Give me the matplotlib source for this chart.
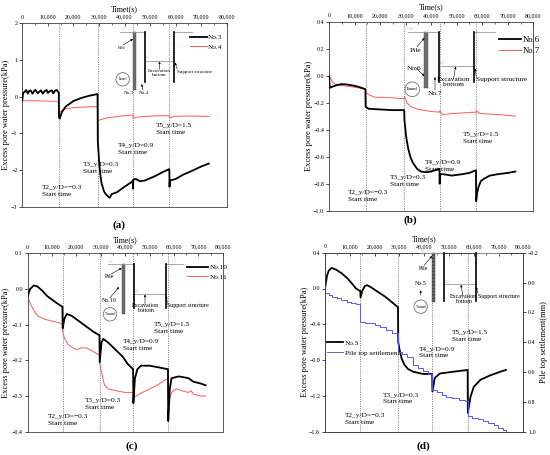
"""
Excess pore water pressure at the monitoring points, panels (a)-(d)
"""
import matplotlib
matplotlib.use('Agg')
import matplotlib.pyplot as plt
from matplotlib.ticker import FuncFormatter, MultipleLocator
from matplotlib.patches import Circle, Rectangle

plt.rcParams['font.family'] = ['Liberation Serif', 'DejaVu Serif']

W, H = 550, 455

# start times of the excavation stages (s)
stage_t = [14300, 29500, 43300, 57600]
stage_txt = ['T2_y/D=\u22120.3\nStart time', 'T3_y/D=0.3\nStart time',
             'T4_y/D=0.9\nStart time', 'T5_y/D=1.5\nStart time']

# (a) No.3 / No.4
t_no3 = [0, 300, 800, 1500, 2200, 2600, 3200, 4000, 4700, 5200, 6000, 6800, 7300, 8000,
         8800, 9500, 10000, 10800, 11500, 12100, 12800, 13500, 14300, 14350, 14600, 15500,
         17000, 20000, 23000, 26000, 29450, 29550, 30000, 30500, 31000, 32000, 33000, 34200,
         35000, 37000, 40000, 43250, 43330, 43450, 44500, 46000, 48000, 52000, 55000, 57550,
         57630, 57750, 60000, 63000, 67000, 70000, 73000]
p_no3 = [-0.1, 0.1, 0.12, 0.18, 0.08, 0.15, 0.17, 0.08, 0.16, 0.18, 0.09, 0.14, 0.17, 0.08,
         0.15, 0.18, 0.1, 0.15, 0.17, 0.09, 0.16, 0.18, 0.1, -0.55, -0.6, -0.42,
         -0.27, -0.12, -0.04, 0.02, 0.07, -1.2, -1.7, -2.1, -2.35, -2.58, -2.68, -2.75,
         -2.65, -2.6, -2.45, -2.3, -2.5, -2.25, -2.24, -2.3, -2.28, -2.16, -2.05, -1.97,
         -2.45, -2.28, -2.24, -2.12, -2.0, -1.9, -1.82]
t_no4 = [0, 2000, 8000, 14250, 14350, 15000, 17000, 20000, 25000, 29450, 29550, 30500, 33000,
         36000, 40000, 43250, 43350, 44500, 48000, 53000, 57550, 57650, 59000, 63000, 68000, 73000]
p_no4 = [-0.12, -0.11, -0.12, -0.13, -0.45, -0.4, -0.33, -0.3, -0.28, -0.27, -0.66, -0.63, -0.58,
         -0.55, -0.52, -0.5, -0.6, -0.56, -0.54, -0.52, -0.52, -0.58, -0.54, -0.53, -0.53, -0.54]

# (b) No.6 / No.7
t_no6 = [0, 300, 1500, 3000, 5000, 7000, 10000, 12000, 14250, 14350, 15500, 20000, 25000,
         29450, 29550, 30200, 31000, 32000, 33000, 34500, 36000, 38000, 40000, 43250, 43330,
         43500, 45000, 48000, 52000, 55000, 57550, 57630, 58000, 58600, 59500, 61000, 63000,
         66000, 70000, 73000]
p_no6 = [0.0, -0.09, -0.08, -0.07, -0.062, -0.065, -0.075, -0.085, -0.1, -0.23, -0.245, -0.25,
         -0.255, -0.255, -0.33, -0.45, -0.54, -0.61, -0.65, -0.69, -0.71, -0.715, -0.71, -0.69,
         -0.8, -0.73, -0.73, -0.74, -0.73, -0.72, -0.7, -0.93, -0.87, -0.82, -0.78, -0.76,
         -0.74, -0.73, -0.72, -0.71]
t_no7 = [0, 1500, 3000, 6000, 10000, 14250, 14350, 15500, 18000, 22000, 26000, 28500, 29500,
         29600, 30500, 32000, 35000, 40000, 43250, 43350, 44500, 48000, 53000, 57550, 57650,
         59000, 63000, 68000, 73000]
p_no7 = [0.0, -0.05, -0.07, -0.075, -0.085, -0.1, -0.12, -0.14, -0.16, -0.16, -0.165, -0.17,
         -0.17, -0.155, -0.2, -0.23, -0.25, -0.265, -0.27, -0.26, -0.29, -0.28, -0.275, -0.27,
         -0.26, -0.28, -0.285, -0.29, -0.3]

# (c) No.10 / No.11
t_no10 = [0, 1000, 2500, 4000, 6000, 8000, 10000, 12000, 14250, 14350, 15000, 16000, 18000,
          21000, 24000, 27000, 29450, 29550, 30300, 31000, 33000, 36000, 39000, 41000, 43250,
          43350, 44000, 45000, 46500, 50000, 54000, 57550, 57650, 58300, 59000, 62000, 66000,
          68000, 71000, 73000]
p_no10 = [-0.02, 0.0, 0.01, 0.007, -0.005, -0.02, -0.03, -0.04, -0.05, -0.11, -0.085, -0.07,
          -0.075, -0.09, -0.105, -0.12, -0.13, -0.205, -0.15, -0.14, -0.15, -0.17, -0.19, -0.21,
          -0.225, -0.32, -0.25, -0.225, -0.215, -0.215, -0.22, -0.225, -0.37, -0.28, -0.25,
          -0.245, -0.25, -0.26, -0.265, -0.27]
t_no11 = [0, 1000, 2500, 4000, 7000, 10000, 13000, 14250, 14350, 15200, 16500, 18500, 20000,
          22000, 24000, 26000, 28000, 29450, 29550, 30500, 31500, 33000, 36000, 40000, 43250,
          43350, 44500, 47000, 50000, 53000, 57550, 57650, 58500, 59500, 61000, 63000, 66000,
          67000, 68000, 71000, 73000]
p_no11 = [-0.02, -0.04, -0.06, -0.075, -0.085, -0.09, -0.095, -0.1, -0.12, -0.14, -0.155,
          -0.165, -0.17, -0.165, -0.165, -0.172, -0.18, -0.185, -0.21, -0.24, -0.27, -0.28,
          -0.285, -0.29, -0.29, -0.305, -0.3, -0.29, -0.28, -0.27, -0.25, -0.34, -0.3, -0.285,
          -0.28, -0.285, -0.29, -0.285, -0.295, -0.3, -0.3]

# (d) No.5 and pile top settlement
t_no5 = [0, 800, 1500, 2700, 4500, 6700, 9000, 10750, 12500, 14250, 14350, 15000, 16100, 17000,
         18500, 20200, 22000, 24200, 26000, 27600, 29450, 29550, 30200, 30900, 32000, 33500,
         35600, 39600, 43250, 43330, 44300, 46300, 51700, 57550, 57630, 58700, 60000, 62700,
         66700, 70700, 73000]
p_no5 = [0.0, 0.14, 0.2, 0.23, 0.21, 0.17, 0.115, 0.06, 0.0, -0.03, -0.1, -0.03, 0.03, 0.037,
         0.015, -0.017, -0.05, -0.09, -0.13, -0.167, -0.21, -0.6, -0.7, -0.78, -0.85, -0.9,
         -0.93, -0.955, -0.955, -1.15, -1.0, -0.95, -0.93, -0.91, -1.39, -1.21, -1.1, -1.02,
         -0.97, -0.93, -0.91]
t_pile = [0, 1500, 3000, 4700, 6500, 8700, 10500, 12500, 14300, 16000, 18200, 20000, 22200,
          24500, 27000, 29500, 31000, 33000, 35600, 37500, 39600, 41500, 43300, 45000, 47200,
          49000, 51200, 53900, 56500, 57600, 59500, 61800, 63800, 65900, 68000, 69900, 71900,
          73000]
s_pile = [0.073, 0.085, 0.095, 0.107, 0.118, 0.129, 0.138, 0.146, 0.263, 0.268, 0.274, 0.285,
          0.30, 0.318, 0.34, 0.463, 0.48, 0.496, 0.551, 0.57, 0.596, 0.61, 0.718, 0.735, 0.751,
          0.765, 0.774, 0.785, 0.796, 0.896, 0.905, 0.918, 0.93, 0.94, 0.955, 0.973, 0.99, 0.996]

RED = '#ff5a5a'
BLUE = '#5a5ae6'

fig = plt.figure(figsize=(5.5, 4.55), dpi=100)


def px_axes(l, t, r, b):
    return fig.add_axes([l / W, 1 - b / H, (r - l) / W, (b - t) / H])


def fmt(dec):
    return FuncFormatter(lambda v, p: f'{v:.{dec}f}'.replace('-', '\u2212'))


def style(ax, ylim, yticks, dec, xlabel, ylab_x):
    ax.set_xlim(0, 80000)
    ax.set_ylim(*ylim)
    ax.set_yticks(yticks)
    ax.yaxis.set_major_formatter(fmt(dec))
    ax.xaxis.tick_top()
    ax.set_xticks(range(0, 80001, 10000))
    ax.xaxis.set_minor_locator(MultipleLocator(5000))
    ax.xaxis.set_major_formatter(FuncFormatter(lambda v, p: f'{int(v):,}'))
    ax.tick_params(axis='x', which='both', direction='in', labelsize=4.3, pad=2.5)
    ax.tick_params(axis='x', which='major', length=2.5, width=0.5)
    ax.tick_params(axis='x', which='minor', length=1.5, width=0.4)
    ax.tick_params(axis='y', direction='out', labelsize=4.3, length=2, width=0.5, pad=1.5)
    ax.set_xlabel(xlabel, fontsize=5.8)
    ax.xaxis.set_label_position('top')
    ax.xaxis.set_label_coords(0.5, 1.065)
    ax.set_ylabel('Excess pore water pressure(kPa)', fontsize=6.0)
    ax.yaxis.set_label_coords(ylab_x, 0.5)
    for sp in ax.spines.values():
        sp.set_linewidth(0.6)
        sp.set_color('#404040')
    for t in stage_t:
        ax.axvline(t, color='#8c8c8c', ls=(0, (1.2, 1.2)), lw=0.7, zorder=1)


def stage_labels(ax, pos, fs=5.3):
    for txt, (x, y) in zip(stage_txt, pos):
        ax.text(x, y, txt, fontsize=fs, va='top', ha='left', linespacing=1.45)


# ---- (a)
ax = px_axes(22.3, 23, 226.7, 207)
style(ax, (-3, 2), [-3, -2, -1, 0, 1, 2], 0, 'Timet(s)', -0.058)
ax.plot(t_no3, p_no3, color='black', lw=1.3, label='No.3', zorder=3)
ax.plot(t_no4, p_no4, color=RED, lw=0.7, label='No.4', zorder=2)
stage_labels(ax, [(7800, -2.4), (23600, -1.79), (37600, -1.27), (52200, -0.73)])
ax.legend(loc='upper left', bbox_to_anchor=(0.82, 0.94), frameon=False, fontsize=5.2,
          handlelength=2.3, handletextpad=0.2, labelspacing=0.5, borderpad=0, borderaxespad=0)

# ---- (b)
ax = px_axes(329, 21.7, 533.3, 210.7)
style(ax, (-1.0, 0.4), [-1.0, -0.8, -0.6, -0.4, -0.2, 0.0, 0.2, 0.4], 1, 'Time(s)', -0.08)
ax.plot(t_no6, p_no6, color='black', lw=1.3, label='No.6', zorder=3)
ax.plot(t_no7, p_no7, color=RED, lw=0.7, label='No.7', zorder=2)
stage_labels(ax, [(7300, -0.85), (23900, -0.736), (37600, -0.624), (52350, -0.415)])
ax.legend(loc='upper left', bbox_to_anchor=(0.83, 0.925), frameon=False, fontsize=6.2,
          handlelength=2.6, handletextpad=0.2, labelspacing=0.4, borderpad=0, borderaxespad=0)

# ---- (c)
ax = px_axes(27.7, 253.3, 222.7, 431.7)
style(ax, (-0.4, 0.1), [-0.4, -0.3, -0.2, -0.1, 0.0, 0.1], 1, 'Time(s)', -0.092)
ax.plot(t_no10, p_no10, color='black', lw=1.3, label='No.10', zorder=3)
ax.plot(t_no11, p_no11, color=RED, lw=0.7, label='No.11', zorder=2)
stage_labels(ax, [(8450, -0.35), (23500, -0.306), (39000, -0.14), (51900, -0.093)])
ax.legend(loc='upper left', bbox_to_anchor=(0.815, 0.94), frameon=False, fontsize=5.2,
          handlelength=3.0, handletextpad=0.2, labelspacing=0.5, borderpad=0, borderaxespad=0)

# ---- (d)
ax = px_axes(325, 252.7, 523.3, 431.7)
style(ax, (-1.6, 0.4), [-1.6, -1.2, -0.8, -0.4, 0.0, 0.4], 1, 'Time(s)', -0.08)
l1, = ax.plot(t_no5, p_no5, color='black', lw=1.3, label='No.5', zorder=3)
ax2 = ax.twinx()
l2, = ax2.step(t_pile, s_pile, where='post', color=BLUE, lw=0.7, label='Pile top settlement')
ax2.set_ylim(1.0, -0.2)
ax2.set_yticks([-0.2, 0.0, 0.2, 0.4, 0.6, 0.8, 1.0])
ax2.yaxis.set_major_formatter(fmt(1))
ax2.tick_params(axis='y', direction='out', labelsize=4.3, length=2, width=0.5, pad=1.5)
ax2.set_ylabel('Pile top settlement(mm)', fontsize=6.0)
ax2.yaxis.set_label_coords(1.083, 0.5)
for sp in ax2.spines.values():
    sp.set_linewidth(0.6)
    sp.set_color('#404040')
stage_labels(ax, [(8070, -1.394), (23500, -1.164), (37900, -0.65), (51100, -0.464)])
ax.legend([l1, l2], ['No.5', 'Pile top settlement'], loc='upper left', bbox_to_anchor=(0.008, 0.513),
          frameon=False, fontsize=5.2, handlelength=2.3, handletextpad=0.2, labelspacing=0.5,
          borderpad=0, borderaxespad=0)

# panel captions
for lab, x, y in [('(a)', 119, 225), ('(b)', 410, 220), ('(c)', 132, 445.7), ('(d)', 423, 445.7)]:
    fig.text(x / W, 1 - y / H, lab, fontsize=8, fontweight='bold', ha='center', va='center')

# ---- schematic sketches (drawn in figure pixels)
ov = fig.add_axes([0, 0, 1, 1])
ov.set_xlim(0, W)
ov.set_ylim(H, 0)
ov.axis('off')

sketches = [
    dict(fs=3.6, top=31.7, gl=120, lw=145, rw=174.3, gr=191.7, exc=60.7, wbot=81.7,
         pile=(132.7, 136, 90), tun=(122.7, 79.3, 6.7), hatch=None,
         labels=[('Pile', (121.7, 47.7), (133, 39), 'center'),
                 ('Excavation\nbottom', (159.5, 73), (159.5, 61.5), 'center'),
                 ('Support structure', (176.7, 72.3), (175, 62.5), 'left'),
                 ('No.3', (128.3, 93.5), None, 'center'),
                 ('No.4', (143.3, 93.5), (141.7, 84), 'center')]),
    dict(fs=5.3, top=31.7, gl=408.3, lw=439, rw=474.3, gr=495, exc=65.7, wbot=81.7,
         pile=(424.3, 428.3, 88.3), tun=(412.3, 89.3, 7.3), hatch=None,
         labels=[('Pile', (416, 50), (424.5, 38), 'center'),
                 ('No.6', (414.3, 68.3), (424.3, 76), 'center'),
                 ('No.7', (435, 93.5), (435, 77), 'center'),
                 ('Excavation\nbottom', (453.3, 82), (455.7, 66.5), 'center'),
                 ('Support structure', (475.5, 80), (475, 68.5), 'left')]),
    dict(fs=4.3, top=264.3, gl=108.3, lw=134.3, rw=165.7, gr=183.3, exc=294, wbot=308.3,
         pile=(121.7, 125, 314.3), tun=(110, 314.3, 6.7), hatch=None,
         labels=[('Pile', (110, 276.7), (121.7, 268), 'center'),
                 ('No.10', (109, 301), (119, 287), 'center'),
                 ('Excavation\nbottom', (145, 308), (145, 294.5), 'center'),
                 ('Support structure', (166.7, 306), (166, 296), 'left')]),
    dict(fs=4.3, top=253.3, gl=420, lw=444, rw=476, gr=500, exc=284.3, wbot=300.7,
         pile=(431.7, 435, 301.7), tun=(420.7, 306.7, 6.7), hatch='-----',
         labels=[('Pile', (423.3, 268.3), (432, 256), 'center'),
                 ('No.5', (420.7, 283.3), None, 'center'),
                 ('Excavation\nbottom', (463, 299), (461, 284.8), 'center'),
                 ('Support structure', (477.5, 296.7), (476, 287), 'left')]),
]

for s in sketches:
    top = s['top']
    ov.plot([s['gl'], s['lw']], [top, top], color='#9a9a9a', lw=0.6)
    ov.plot([s['rw'], s['gr']], [top, top], color='#9a9a9a', lw=0.6)
    ov.plot([s['lw'], s['rw']], [s['exc'], s['exc']], color='#9a9a9a', lw=0.6)
    for gx, gy in [(s['gl'], top), (s['lw'], s['exc'])]:
        ov.text(gx + 1, gy - 0.5, '////', fontsize=s['fs'] * 0.55, color='#888888', va='bottom')
    x0, x1, pb = s['pile']
    ov.add_patch(Rectangle((x0, top), x1 - x0, pb - top, fc='#6e6e6e', ec='#444444', lw=0.3,
                           hatch=s['hatch']))
    ov.plot([s['lw'], s['lw']], [top, s['wbot']], color='black', lw=1.2)
    ov.plot([s['rw'], s['rw']], [top, s['wbot']], color='black', lw=1.2)
    cx, cy, r = s['tun']
    ov.add_patch(Circle((cx, cy), r, fc='white', ec='#707070', lw=0.6))
    ov.text(cx, cy, 'Tunnel', fontsize=s['fs'] * 0.6, ha='center', va='center')
    for txt, pos, tgt, ha in s['labels']:
        ov.text(pos[0], pos[1], txt, fontsize=s['fs'], ha=ha, va='center', linespacing=1.0)
        if tgt is not None:
            ov.annotate('', xy=tgt, xytext=(pos[0] if ha == 'center' else pos[0] + 1, pos[1] - 2),
                        arrowprops=dict(arrowstyle='-|>', lw=0.4, color='black',
                                        mutation_scale=3, shrinkA=1, shrinkB=0))
# small up-arrow from the tunnel to No.5 in (d)
ov.annotate('', xy=(420.7, 287.5), xytext=(420.7, 298),
            arrowprops=dict(arrowstyle='-|>', lw=0.4, color='black', mutation_scale=3))

fig.savefig('out.png', dpi=100)
